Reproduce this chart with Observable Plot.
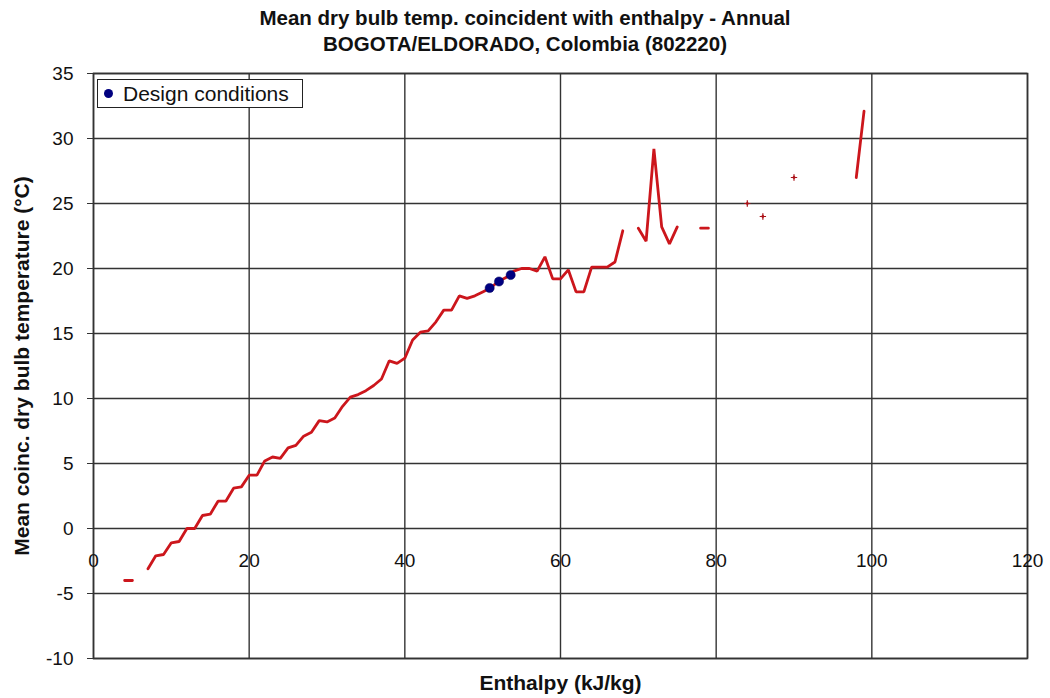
<!DOCTYPE html>
<html>
<head>
<meta charset="utf-8">
<script src="https://cdn.jsdelivr.net/npm/d3@7"></script>
<script src="https://cdn.jsdelivr.net/npm/@observablehq/plot@0.6"></script>
<style>
  html, body { margin: 0; padding: 0; background: #fff; }
  #wrap { position: relative; width: 1050px; height: 698px; font-family: "Liberation Sans", Arial, sans-serif; }
  #title { height: 58px; box-sizing: border-box; padding-top: 5px; text-align: center; font-weight: bold; font-size: 20.5px; line-height: 26px; color: #111; }
  #legend { position: absolute; left: 97px; top: 79px; width: 206px; height: 29px; box-sizing: border-box; border: 1.5px solid #222; background: #fff; font-size: 21px; color: #111; }
  #legend .dot { position: absolute; left: 6px; top: 9px; width: 9px; height: 9px; border-radius: 50%; background: #000080; }
  #legend .lab { position: absolute; left: 25px; top: 1px; line-height: 25px; white-space: nowrap; }
</style>
</head>
<body>
<div id="wrap">
  <div id="title"></div>
  <div id="chart"></div>
  <div id="legend"><span class="dot"></span><span class="lab"></span></div>
</div>
<script>
const titleLines = ["Mean dry bulb temp. coincident with enthalpy - Annual", "BOGOTA/ELDORADO, Colombia (802220)"];
const xLabel = "Enthalpy (kJ/kg)";
const yLabel = "Mean coinc. dry bulb temperature (°C)";
const legendLabel = "Design conditions";

const xTicks = [0, 20, 40, 60, 80, 100, 120];
const yTicks = [-10, -5, 0, 5, 10, 15, 20, 25, 30, 35];

// Enthalpy bins (kJ/kg)
const enthalpy = [4, 5, 6, 7, 8, 9, 10, 11, 12, 13, 14, 15, 16, 17, 18, 19, 20, 21, 22, 23,
  24, 25, 26, 27, 28, 29, 30, 31, 32, 33, 34, 35, 36, 37, 38, 39, 40, 41, 42, 43,
  44, 45, 46, 47, 48, 49, 50, 51, 52, 53, 54, 55, 56, 57, 58, 59, 60, 61, 62, 63,
  64, 65, 66, 67, 68, 69, 70, 71, 72, 73, 74, 75, 76, 77, 78, 79, 80, 81, 82, 83,
  84, 85, 86, 87, 88, 89, 90, 91, 92, 93, 94, 95, 96, 97, 98, 99];
// Mean coincident dry bulb temperature (°C); null = no data
const meanDryBulb = [-4.0, -4.0, null, -3.1, -2.1, -2.0, -1.1, -1.0, 0.0, 0.0, 1.0, 1.1, 2.1, 2.1, 3.1, 3.2, 4.1, 4.1, 5.2, 5.5,
  5.4, 6.2, 6.4, 7.1, 7.4, 8.3, 8.2, 8.5, 9.4, 10.1, 10.3, 10.6, 11.0, 11.5, 12.9, 12.7, 13.1, 14.5, 15.1, 15.2,
  15.9, 16.8, 16.8, 17.9, 17.7, 17.9, 18.2, 18.5, 19.0, 19.3, 19.8, 20.0, 20.0, 19.8, 20.9, 19.2, 19.2, 19.9, 18.2, 18.2,
  20.1, 20.1, 20.1, 20.5, 22.9, null, 23.1, 22.1, 29.2, 23.2, 21.9, 23.2, null, null, 23.1, 23.1, null, null, null, null,
  25.0, null, 24.0, null, null, null, 27.0, null, null, null, null, null, null, null, 27.0, 32.1];

// Design conditions
const designEnthalpy = [50.9, 52.1, 53.6];
const designTemp = [18.5, 19.0, 19.5];

document.getElementById("title").innerHTML = titleLines.map(t => `<div>${t}</div>`).join("");
document.querySelector("#legend .lab").textContent = legendLabel;

const series = enthalpy.map((x, i) => ({x, y: meanDryBulb[i]}));
const isolated = series.filter((d, i) => d.y != null &&
  (i === 0 || series[i - 1].y == null) && (i === series.length - 1 || series[i + 1].y == null));
const design = designEnthalpy.map((x, i) => ({x, y: designTemp[i]}));

const gridColor = "#333";
const fmt = d => String(d);
const chart = Plot.plot({
  width: 1050,
  height: 640,
  marginTop: 15,
  marginBottom: 40,
  marginLeft: 93,
  marginRight: 23,
  style: {fontFamily: "'Liberation Sans', Arial, sans-serif", fontSize: "19px", color: "#111", background: "#fff", overflow: "visible"},
  x: {domain: [0, 120], label: null},
  y: {domain: [-10, 35], label: null},
  marks: [
    Plot.gridX(xTicks, {stroke: gridColor, strokeOpacity: 1, strokeWidth: 1.4}),
    Plot.gridY(yTicks, {stroke: gridColor, strokeOpacity: 1, strokeWidth: 1.4}),
    Plot.frame({stroke: gridColor, strokeWidth: 1.6}),
    Plot.axisY(yTicks, {tickSize: 6, tickPadding: 14, stroke: gridColor, fontSize: 19, tickFormat: fmt, label: null}),
    Plot.axisX(xTicks, {tickSize: 0, tickPadding: 3, dy: -108, fontSize: 19, tickFormat: fmt, label: null}),
    Plot.line(series, {x: "x", y: "y", stroke: "#cc161c", strokeWidth: 2.8, strokeLinejoin: "miter"}),
    Plot.dot(isolated, {x: "x", y: "y", symbol: "plus", r: 2.2, stroke: "#a8141a", strokeWidth: 1.2}),
    Plot.dot(design, {x: "x", y: "y", r: 4.6, fill: "#000080", stroke: "#000060", strokeWidth: 0.5}),
    Plot.text([xLabel], {frameAnchor: "bottom", dy: 31, fontSize: 21, fontWeight: "bold", fill: "#111"}),
    Plot.text([yLabel], {frameAnchor: "left", dx: -71, rotate: -90, textAnchor: "middle", fontSize: 21, fontWeight: "bold", fill: "#111"})
  ]
});
document.getElementById("chart").appendChild(chart);
</script>
</body>
</html>
